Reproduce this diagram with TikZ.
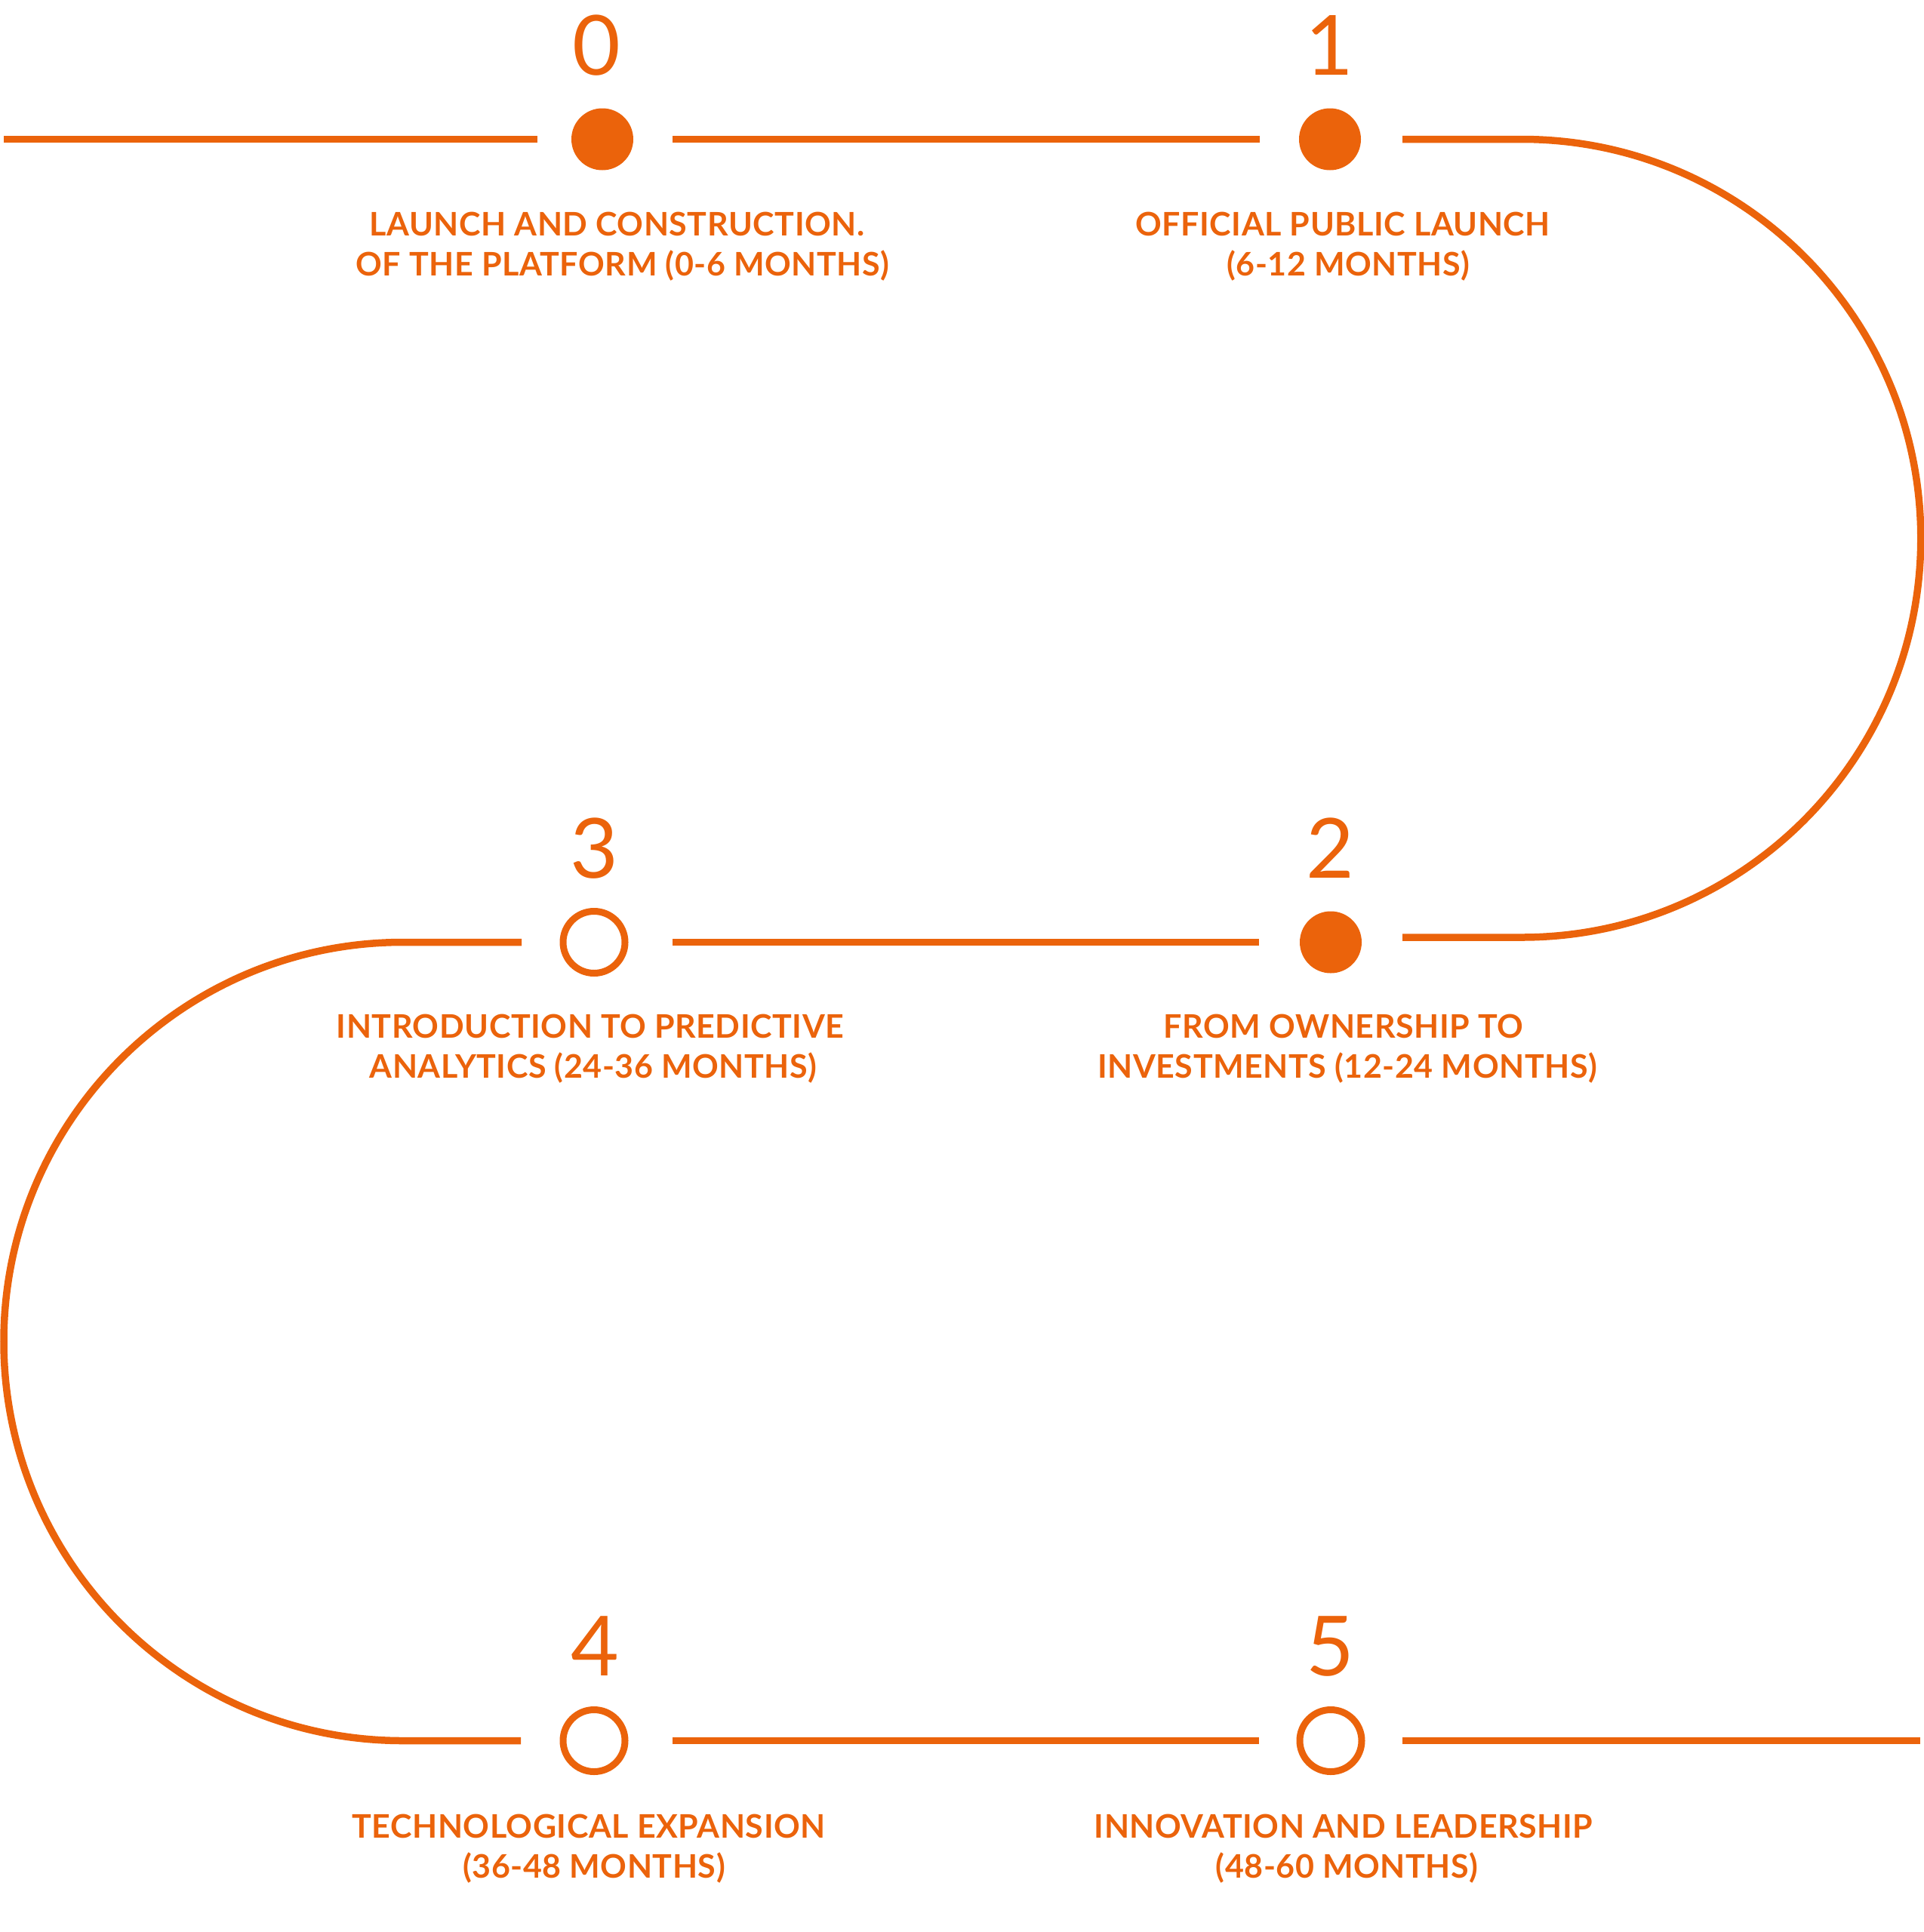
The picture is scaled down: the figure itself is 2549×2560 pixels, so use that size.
\documentclass[tikz,border=0pt]{standalone}
\usepackage{fontspec}
\setmainfont{Lato}
\newfontfamily\labfont[LetterSpace=1.3]{Lato}
\definecolor{org}{RGB}{235,99,11}
\begin{document}
\begin{tikzpicture}[x=1pt,y=-1pt,
  track/.style={draw=org,line width=9.5pt},
  fdot/.style={circle,fill=org,minimum size=82pt,inner sep=0pt},
  rdot/.style={circle,draw=org,line width=9pt,minimum size=82pt,inner sep=0pt},
  num/.style={text=org,font=\fontsize{110}{110}\selectfont,anchor=base,inner sep=0pt},
  lab/.style={text=org,font=\labfont\bfseries\fontsize{43}{43}\selectfont,anchor=base,inner sep=0pt}
]
\useasboundingbox (0,0) rectangle (2549,2560);

% milestones
\node[fdot] (d0) at (798,184.5) {};
\node[fdot] (d1) at (1762,184.5) {};
\node[fdot] (d2) at (1763,1248.5) {};
\node[rdot] (d3) at (787,1248.5) {};
\node[rdot] (d4) at (787,2306.5) {};
\node[rdot] (d5) at (1763,2306.5) {};

% numbers
\node[num] (n0) at (790,99) {0};
\node[num] (n1) at (1761,99) {1};
\node[num] (n2) at (1762,1163) {2};
\node[num] (n3) at (787,1163) {3};
\node[num] (n4) at (788,2220.5) {4};
\node[num] (n5) at (1762,2220.5) {5};

% labels
\node[lab] (l0a) at (817.5,312.7) {LAUNCH AND CONSTRUCTION.};
\node[lab] (l0b) at (825,365.7) {OF THE PLATFORM (0-6 MONTHS)};
\node[lab] (l1a) at (1779,312.7) {OFFICIAL PUBLIC LAUNCH};
\node[lab] (l1b) at (1786.5,365.7) {(6-12 MONTHS)};
\node[lab] (l2a) at (1780,1375) {FROM OWNERSHIP TO};
\node[lab] (l2b) at (1785,1428.3) {INVESTMENTS (12-24 MONTHS)};
\node[lab] (l3a) at (782,1375) {INTRODUCTION TO PREDICTIVE};
\node[lab] (l3b) at (786,1428.3) {ANALYTICS (24-36 MONTHS)};
\node[lab] (l4a) at (780,2435) {TECHNOLOGICAL EXPANSION};
\node[lab] (l4b) at (787,2488) {(36-48 MONTHS)};
\node[lab] (l5a) at (1780,2435) {INNOVATION AND LEADERSHIP};
\node[lab] (l5b) at (1784.5,2488) {(48-60 MONTHS)};

% track end points
\coordinate (a0) at (5,184.5);
\coordinate (a1) at (712,184.5);
\coordinate (b0) at (891,184.5);
\coordinate (b1) at (1669,184.5);
\coordinate (c0) at (1858,184.5);
\coordinate (c1) at (2016,184.5);
\coordinate (c2) at (2544.75,713.25);
\coordinate (c3) at (2016,1242);
\coordinate (c4) at (1858,1242);
\coordinate (e0) at (891,1248.5);
\coordinate (e1) at (1668,1248.5);
\coordinate (f0) at (691,1248.5);
\coordinate (f1) at (534,1248.5);
\coordinate (f2) at (5,1777.5);
\coordinate (f3) at (534,2306.5);
\coordinate (f4) at (690,2306.5);
\coordinate (g0) at (891,2306.5);
\coordinate (g1) at (1668,2306.5);
\coordinate (h0) at (1858,2306.5);
\coordinate (h1) at (2544,2306.5);

% track
\draw[track] (a0) -- (a1);
\draw[track] (b0) -- (b1);
\draw[track] (c0) -- (c1)
  .. controls (2308,184.5) and (2544.75,421.25) .. (c2)
  .. controls (2544.75,1005.25) and (2308,1242) .. (c3) -- (c4);
\draw[track] (e0) -- (e1);
\draw[track] (f0) -- (f1)
  .. controls (241.8,1248.5) and (5,1485.3) .. (f2)
  .. controls (5,2069.7) and (241.8,2306.5) .. (f3) -- (f4);
\draw[track] (g0) -- (g1);
\draw[track] (h0) -- (h1);
\end{tikzpicture}
\end{document}
